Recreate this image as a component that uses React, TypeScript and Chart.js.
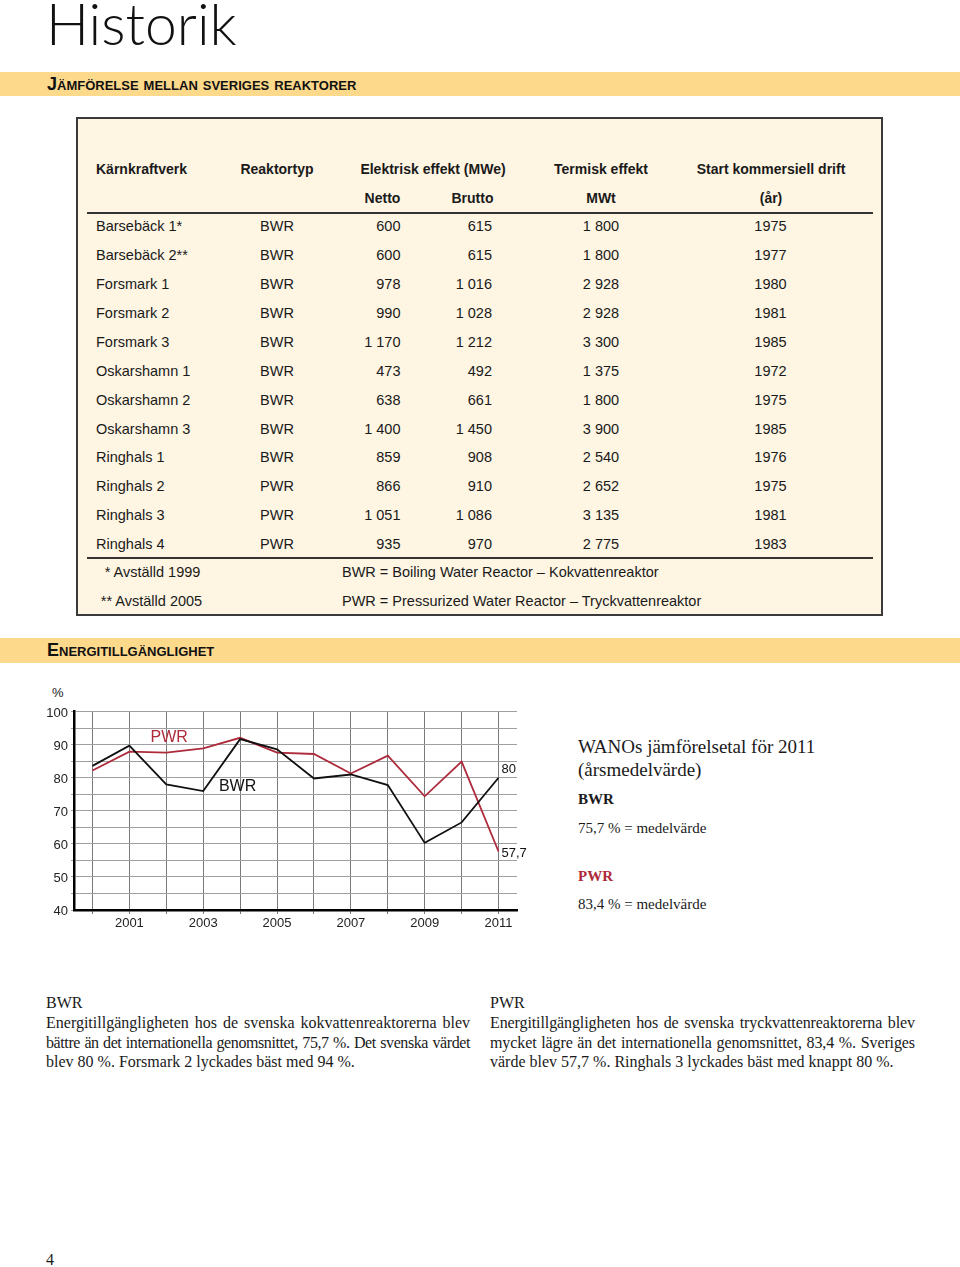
import React, { useEffect, useRef } from 'react';
import { Chart, registerables } from 'chart.js';

Chart.register(...registerables);

// ---------- chart data ----------
const years = ['2000', '2001', '2002', '2003', '2004', '2005', '2006', '2007', '2008', '2009', '2010', '2011'];
const bwrValues = [83.6, 89.7, 78.0, 76.0, 91.7, 88.6, 79.8, 81.0, 77.8, 60.3, 66.5, 80];
const pwrValues = [82.2, 87.9, 87.6, 88.9, 92.1, 87.6, 87.2, 81.3, 86.7, 74.4, 84.9, 57.7];
const yMin = 40;
const yMax = 100;
const yStep = 5;
const yLabelStep = 10;

// ---------- table data ----------
const plants = ['Barsebäck 1*', 'Barsebäck 2**', 'Forsmark 1', 'Forsmark 2', 'Forsmark 3', 'Oskarshamn 1', 'Oskarshamn 2', 'Oskarshamn 3', 'Ringhals 1', 'Ringhals 2', 'Ringhals 3', 'Ringhals 4'];
const reactorTypes = ['BWR', 'BWR', 'BWR', 'BWR', 'BWR', 'BWR', 'BWR', 'BWR', 'BWR', 'PWR', 'PWR', 'PWR'];
const nettoMWe = ['600', '600', '978', '990', '1 170', '473', '638', '1 400', '859', '866', '1 051', '935'];
const bruttoMWe = ['615', '615', '1 016', '1 028', '1 212', '492', '661', '1 450', '908', '910', '1 086', '970'];
const thermalMWt = ['1 800', '1 800', '2 928', '2 928', '3 300', '1 375', '1 800', '3 900', '2 540', '2 652', '3 135', '2 775'];
const startYears = ['1975', '1977', '1980', '1981', '1985', '1972', '1975', '1985', '1976', '1975', '1981', '1983'];

const RED = '#ad2b3b';
const BAND = '#fdd98c';
const CREAM = '#fef5e3';
const SANS = '"Liberation Sans", Arial, sans-serif';
const SERIF = '"Liberation Serif", "Times New Roman", serif';

type Align = 'left' | 'center' | 'right';

const kFor = (family: string) => (family === SERIF ? 0.9375 : family === SANS ? 0.9465 : 0.987);

function Txt(props: {
  x: number; base: number; size: number; family?: string; align?: Align; weight?: number | string;
  color?: string; children: React.ReactNode; style?: React.CSSProperties; width?: number;
}) {
  const family = props.family || SANS;
  const align = props.align || 'left';
  const lh = props.size * 1.2;
  const top = props.base - kFor(family) * props.size;
  const w = props.width ?? 400;
  let left = props.x;
  if (align === 'center') left = props.x - w / 2;
  if (align === 'right') left = props.x - w;
  return (
    <div
      style={{
        position: 'absolute', left, top, width: w, lineHeight: lh + 'px', fontSize: props.size,
        fontFamily: family, fontWeight: props.weight ?? 400, color: props.color ?? '#1a1a1a',
        textAlign: align, whiteSpace: 'nowrap', ...props.style,
      }}
    >
      {props.children}
    </div>
  );
}

function EnergyChart() {
  const ref = useRef<HTMLCanvasElement>(null);
  useEffect(() => {
    const labelPlugin = {
      id: 'lineLabels',
      afterDatasetsDraw(chart: any) {
        const { ctx, scales } = chart;
        const x = scales.x;
        const y = scales.y;
        ctx.save();
        ctx.textBaseline = 'middle';
        ctx.font = '16px ' + SANS;
        ctx.textAlign = 'center';
        ctx.fillStyle = RED;
        ctx.fillText('PWR', x.getPixelForValue(2.08), y.getPixelForValue(92.3));
        ctx.fillStyle = '#111';
        ctx.fillText('BWR', x.getPixelForValue(3.93), y.getPixelForValue(77.2));
        ctx.font = '13px ' + SANS;
        ctx.textAlign = 'left';
        const last = years.length - 1;
        const lx = x.getPixelForValue(last) + 3;
        ctx.fillStyle = '#111';
        ctx.fillText(String(bwrValues[last]).replace('.', ','), lx, y.getPixelForValue(bwrValues[last]) - 8);
        ctx.fillText(String(pwrValues[last]).replace('.', ','), lx, y.getPixelForValue(pwrValues[last]) + 1.5);
        ctx.restore();
      },
    };
    const chart = new Chart(ref.current as HTMLCanvasElement, {
      type: 'line',
      data: {
        labels: years,
        datasets: [
          { label: 'BWR', data: bwrValues, borderColor: '#111', borderWidth: 1.8, pointRadius: 0, tension: 0, fill: false },
          { label: 'PWR', data: pwrValues, borderColor: RED, borderWidth: 1.8, pointRadius: 0, tension: 0, fill: false },
        ],
      },
      options: {
        animation: false,
        responsive: false,
        devicePixelRatio: 1,
        layout: { padding: { left: 10, right: 13, top: 31.7, bottom: 4 } },
        plugins: { legend: { display: false }, tooltip: { enabled: false } },
        scales: {
          x: {
            type: 'category',
            offset: true,
            afterFit: (s: any) => { s.height = 26; },
            grid: { color: '#7a7a7a', lineWidth: 1, offset: false, tickLength: 4, drawTicks: true },
            border: { display: true, color: '#000', width: 2.5 },
            ticks: {
              autoSkip: false, maxRotation: 0, padding: 2, color: '#222',
              font: { family: SANS, size: 13 },
              callback: (_v: any, i: number) => (Number(years[i]) % 2 === 1 ? years[i] : ''),
            },
          },
          y: {
            min: yMin, max: yMax,
            afterFit: (s: any) => { s.width = 34; },
            grid: { color: '#a0a0a0', lineWidth: 1, tickLength: 3 },
            border: { display: true, color: '#000', width: 2.5 },
            ticks: {
              stepSize: yStep, padding: 3, color: '#222', autoSkip: false, labelOffset: 1.5,
              font: { family: SANS, size: 13 },
              callback: (v: any) => (Number(v) % yLabelStep === 0 ? String(v) : ''),
            },
          },
        },
      } as any,
      plugins: [labelPlugin],
    });
    return () => chart.destroy();
  }, []);
  return <canvas ref={ref} width={500} height={260} style={{ position: 'absolute', left: 30, top: 680, width: 500, height: 260 }} />;
}

function Band(props: { top: number; height: number; base: number; text: string }) {
  return (
    <>
      <div style={{ position: 'absolute', left: 0, top: props.top, width: 960, height: props.height, background: BAND }} />
      <Txt x={47} base={props.base} size={18} weight={700} color="#111" style={{ fontVariant: 'small-caps' }}>
        {props.text}
      </Txt>
    </>
  );
}

function JustLine(props: { x: number; base: number; width: number; last?: boolean; text: string; ls?: number }) {
  const size = 16;
  return (
    <div
      style={{
        position: 'absolute', left: props.x, top: props.base - 0.9375 * size, width: props.width,
        fontFamily: SERIF, fontSize: size, lineHeight: size * 1.2 + 'px', color: '#1a1a1a',
        textAlign: props.last ? 'left' : 'justify', textAlignLast: props.last ? 'left' : 'justify',
        letterSpacing: props.ls ?? 0, whiteSpace: props.last ? 'nowrap' : 'normal',
      } as React.CSSProperties}
    >
      {props.text}
    </div>
  );
}

export default function App() {
  const rowY = (i: number) => 227 + i * 28.9 + 5;
  const D = 14.5;
  return (
    <div style={{ position: 'absolute', left: 0, top: 0, width: 960, height: 1267, background: '#fff', overflow: 'hidden' }}>
      <div style={{ position: 'absolute', left: 46, top: 0, lineHeight: '46px', fontSize: 57, fontFamily: "Lato, 'Open Sans', sans-serif", fontWeight: 300, color: '#111', whiteSpace: 'nowrap' }}>Historik</div>

      <Band top={72} height={24} base={91.5} text="Jämförelse mellan sveriges reaktorer" />

      <div style={{ position: 'absolute', left: 76, top: 117, width: 807, height: 499, boxSizing: 'border-box', border: '2px solid #3a3a3a', background: CREAM }} />
      <div style={{ position: 'absolute', left: 87, top: 212, width: 786, height: 2, background: '#333' }} />
      <div style={{ position: 'absolute', left: 87, top: 557, width: 786, height: 2, background: '#333' }} />

      <Txt x={96} base={174} size={14} weight={700}>Kärnkraftverk</Txt>
      <Txt x={277} base={174} size={14} weight={700} align="center">Reaktortyp</Txt>
      <Txt x={433} base={174} size={14} weight={700} align="center">Elektrisk effekt (MWe)</Txt>
      <Txt x={601} base={174} size={14} weight={700} align="center">Termisk effekt</Txt>
      <Txt x={771} base={174} size={14} weight={700} align="center">Start kommersiell drift</Txt>
      <Txt x={382.5} base={203} size={14} weight={700} align="center">Netto</Txt>
      <Txt x={472.5} base={203} size={14} weight={700} align="center">Brutto</Txt>
      <Txt x={601} base={203} size={14} weight={700} align="center">MWt</Txt>
      <Txt x={771} base={203} size={14} weight={700} align="center">(år)</Txt>

      {plants.map((p, i) => (
        <React.Fragment key={p}>
          <Txt x={96} base={rowY(i)} size={D}>{p}</Txt>
          <Txt x={277} base={rowY(i)} size={D} align="center">{reactorTypes[i]}</Txt>
          <Txt x={400.5} base={rowY(i)} size={D} align="right">{nettoMWe[i]}</Txt>
          <Txt x={492} base={rowY(i)} size={D} align="right">{bruttoMWe[i]}</Txt>
          <Txt x={601} base={rowY(i)} size={D} align="center">{thermalMWt[i]}</Txt>
          <Txt x={770.5} base={rowY(i)} size={D} align="center">{startYears[i]}</Txt>
        </React.Fragment>
      ))}

      <Txt x={152.5} base={578} size={D} align="center">* Avställd 1999</Txt>
      <Txt x={151.5} base={607} size={D} align="center">** Avställd 2005</Txt>
      <Txt x={342} base={578} size={D}>BWR = Boiling Water Reactor – Kokvattenreaktor</Txt>
      <Txt x={342} base={607} size={D}>PWR = Pressurized Water Reactor – Tryckvattenreaktor</Txt>

      <Band top={638} height={25} base={657} text="Energitillgänglighet" />

      <Txt x={52} base={697} size={13}>%</Txt>
      <EnergyChart />

      <Txt x={578} base={754.3} size={19} family={SERIF}>WANOs jämförelsetal för 2011</Txt>
      <Txt x={578} base={776.7} size={19} family={SERIF}>(årsmedelvärde)</Txt>
      <Txt x={578} base={804.3} size={15} family={SERIF} weight={700}>BWR</Txt>
      <Txt x={578} base={832.7} size={15} family={SERIF}>75,7 % = medelvärde</Txt>
      <Txt x={578} base={880.7} size={15} family={SERIF} weight={700} color={RED}>PWR</Txt>
      <Txt x={578} base={909} size={15} family={SERIF}>83,4 % = medelvärde</Txt>

      <Txt x={46} base={1008} size={16} family={SERIF}>BWR</Txt>
      <JustLine x={46} base={1028} width={424} text="Energitillgängligheten hos de svenska kokvattenreaktorerna blev" />
      <JustLine x={46} base={1047.5} width={424} ls={-0.4} text="bättre än det internationella genomsnittet, 75,7 %. Det svenska värdet" />
      <JustLine x={46} base={1067} width={424} last text="blev 80 %. Forsmark 2 lyckades bäst med 94 %." />

      <Txt x={490} base={1008} size={16} family={SERIF}>PWR</Txt>
      <JustLine x={490} base={1028} width={425} ls={-0.1} text="Energitillgängligheten hos de svenska tryckvattenreaktorerna blev" />
      <JustLine x={490} base={1047.5} width={425} ls={-0.1} text="mycket lägre än det internationella genomsnittet, 83,4 %. Sveriges" />
      <JustLine x={490} base={1067} width={425} last text="värde blev 57,7 %. Ringhals 3 lyckades bäst med knappt 80 %." />

      <Txt x={46} base={1265} size={16} family={SERIF}>4</Txt>
    </div>
  );
}
